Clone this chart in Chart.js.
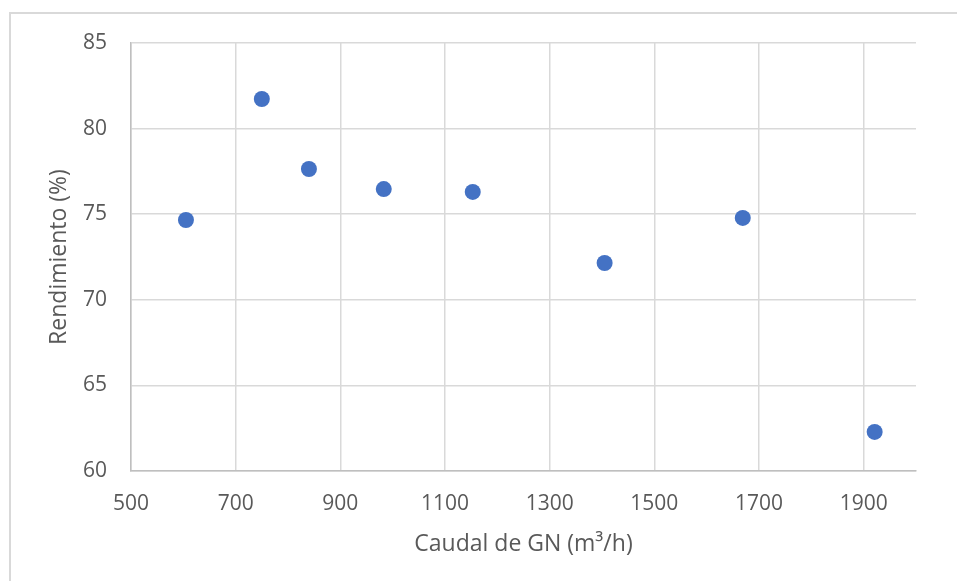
<!DOCTYPE html>
<html><head><meta charset="utf-8">
<script src="https://cdn.jsdelivr.net/npm/chart.js@4/dist/chart.umd.min.js"></script>
<style>html,body{margin:0;padding:0;background:#fff}#wrap{width:957px;height:581px;position:relative}</style>
</head><body><div id="wrap"><canvas id="c" width="957" height="581"></canvas></div>
<script>
const caudal = [605, 750, 840, 983, 1153, 1405, 1669, 1921];
const rendimiento = [74.66, 81.73, 77.64, 76.47, 76.30, 72.15, 74.78, 62.28];
const xTicks = [500, 700, 900, 1100, 1300, 1500, 1700, 1900];
const yTicks = [60, 65, 70, 75, 80, 85];
const xTitle = 'Caudal de GN (m³/h)';
const yTitle = 'Rendimiento (%)';

const points = caudal.map((x, i) => ({x: x, y: rendimiento[i]}));
const FONT = '"Open Sans", "Liberation Sans", sans-serif';
const TXT = '#595959';

const L = 46, B = 23;
const frame = {
  id: 'frame',
  beforeDraw(chart) {
    const c = chart.ctx;
    c.save();
    c.strokeStyle = '#d9d9d9';
    c.lineWidth = 2;
    c.beginPath();
    c.moveTo(10, 581); c.lineTo(10, 13); c.lineTo(957, 13);
    c.stroke();
    c.restore();
  }
};

new Chart(document.getElementById('c'), {
  type: 'scatter',
  data: { datasets: [{
    data: points,
    pointRadius: 8,
    pointHoverRadius: 8,
    backgroundColor: '#4472C4',
    borderColor: '#4472C4',
    borderWidth: 0
  }]},
  options: {
    responsive: false,
    animation: false,
    events: [],
    layout: { padding: { left: L, right: 41, top: 43, bottom: B } },
    plugins: { legend: { display: false }, tooltip: { enabled: false } },
    scales: {
      x: {
        type: 'linear', min: 500, max: 2000,
        afterBuildTicks: s => { s.ticks = xTicks.map(v => ({value: v})); },
        afterFit: s => { s.height = 581 - B - 471; },
        grid: { color: '#d9d9d9', lineWidth: 1.5, drawTicks: false },
        border: { color: '#bfbfbf', width: 1.5 },
        ticks: { color: TXT, font: { family: FONT, size: 21 }, padding: 20, maxRotation: 0, callback: v => String(v) },
        title: { display: true, text: xTitle, color: TXT, font: { family: FONT, size: 23 }, padding: 0 }
      },
      y: {
        type: 'linear', min: 60, max: 85,
        afterBuildTicks: s => { s.ticks = yTicks.map(v => ({value: v})); },
        afterFit: s => { s.width = 131 - L; },
        grid: { color: '#d9d9d9', lineWidth: 1.5, drawTicks: false },
        border: { color: '#bfbfbf', width: 1.5 },
        ticks: { color: TXT, font: { family: FONT, size: 21 }, padding: 24, callback: v => String(v) },
        title: { display: true, text: yTitle, color: TXT, font: { family: FONT, size: 23 }, padding: 0 }
      }
    }
  },
  plugins: [frame]
});
</script></body></html>
